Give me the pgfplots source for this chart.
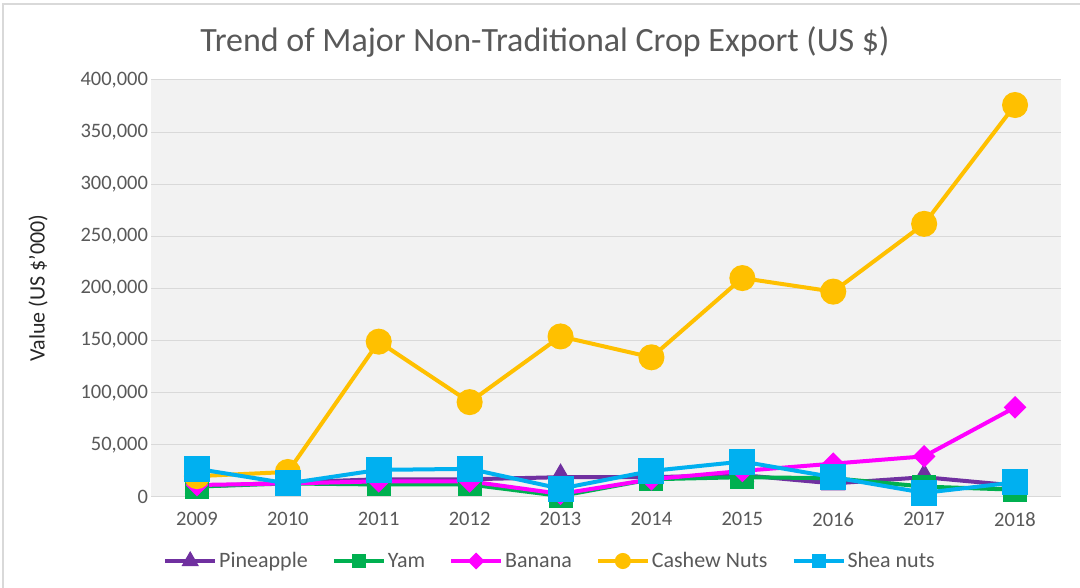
\documentclass[border=0pt]{standalone}
\usepackage{pgfplots}
\pgfplotsset{compat=1.18}
\usepackage{fontspec}
\setmainfont{Carlito}
\definecolor{pine}{HTML}{7030A0}
\definecolor{yam}{HTML}{00B050}
\definecolor{ban}{HTML}{FF00FF}
\definecolor{cash}{HTML}{FFC000}
\definecolor{shea}{HTML}{00B0F0}
\definecolor{bgc}{HTML}{F2F2F2}
\definecolor{gridc}{HTML}{D9D9D9}
\definecolor{txt}{HTML}{595959}
\begin{document}
\begin{tikzpicture}[x=1pt,y=1pt]
\path[use as bounding box] (-151.5,-91) rectangle (928.5,497);
\fill[white] (-151.5,-91) rectangle (928.5,497);
\draw[color=gridc, line width=2pt] (-148.5,-100) rectangle (940,493);
\node[text=txt, font=\fontsize{34}{38}\selectfont] at (393.5,455) {Trend of Major Non-Traditional Crop Export (US \$)};
\node[text=black!85, rotate=90, font=\fontsize{22}{26}\selectfont] at (-113.5,209) {Value (US \$'000)};
\begin{axis}[at={(0,0)}, anchor=south west, scale only axis,
  width=909pt, height=417pt,
  xmin=2008.5, xmax=2018.5, ymin=0, ymax=400000,
  xtick={2009,...,2018}, ytick={0,50000,...,400000},
  scaled y ticks=false,
  xticklabel style={/pgf/number format/.cd, 1000 sep={}, /tikz/yshift=-12pt},
  yticklabel style={/pgf/number format/.cd, fixed, 1000 sep={,}},
  /pgf/number format/assume math mode=true,
  tick label style={text=txt, font=\fontsize{20.5}{24}\selectfont},
  axis background/.style={fill=bgc},
  axis line style={draw=none},
  major tick length=0pt,
  ymajorgrids, grid style={gridc, line width=1pt},
  legend columns=5,
  legend style={draw=none, fill=none, at={(0.4384,-0.1535)}, anchor=center,
    font=\fontsize{22}{26}\selectfont, text=txt,
    /tikz/every even column/.append style={column sep=22pt}},
  legend image code/.code={\draw[mark repeat=2,mark phase=2] plot coordinates {(0pt,0pt) (25pt,0pt) (50pt,0pt)};},
  clip=false,
]
\addplot[pine, line width=4pt, mark=triangle*, mark size=10pt, forget plot] coordinates {
(2009,10000) (2010,14000) (2011,17000) (2012,17000) (2013,19000) (2014,19000) (2015,21000) (2016,13000) (2017,19000) (2018,11000)};
\addplot[yam, line width=4pt, mark=square*, mark size=10pt, forget plot] coordinates {
(2009,10000) (2010,13000) (2011,12000) (2012,12000) (2013,1000) (2014,17000) (2015,19000) (2016,18000) (2017,10000) (2018,7000)};
\addplot[ban, line width=4pt, mark=square*, mark options={rotate=45}, mark size=6pt, forget plot] coordinates {
(2009,11500) (2010,13000) (2011,15000) (2012,15000) (2013,3000) (2014,17000) (2015,25000) (2016,32000) (2017,39000) (2018,86000)};
\addplot[cash, line width=4pt, mark=*, mark size=11pt, forget plot] coordinates {
(2009,20000) (2010,24000) (2011,149000) (2012,91000) (2013,154000) (2014,134000) (2015,210000) (2016,197000) (2017,262000) (2018,376000)};
\addplot[shea, line width=4pt, mark=square*, mark size=11pt, forget plot] coordinates {
(2009,27000) (2010,13000) (2011,26000) (2012,27000) (2013,8000) (2014,25000) (2015,34000) (2016,19000) (2017,4000) (2018,14000)};
\addlegendimage{pine, line width=4pt, mark=triangle*, mark size=6pt}
\addlegendentry{Pineapple}
\addlegendimage{yam, line width=4pt, mark=square*, mark size=5pt}
\addlegendentry{Yam}
\addlegendimage{ban, line width=4pt, mark=square*, mark options={rotate=45}, mark size=4pt}
\addlegendentry{Banana}
\addlegendimage{cash, line width=4pt, mark=*, mark size=6pt}
\addlegendentry{Cashew Nuts}
\addlegendimage{shea, line width=4pt, mark=square*, mark size=5pt}
\addlegendentry{Shea nuts}
\end{axis}
\end{tikzpicture}
\end{document}
